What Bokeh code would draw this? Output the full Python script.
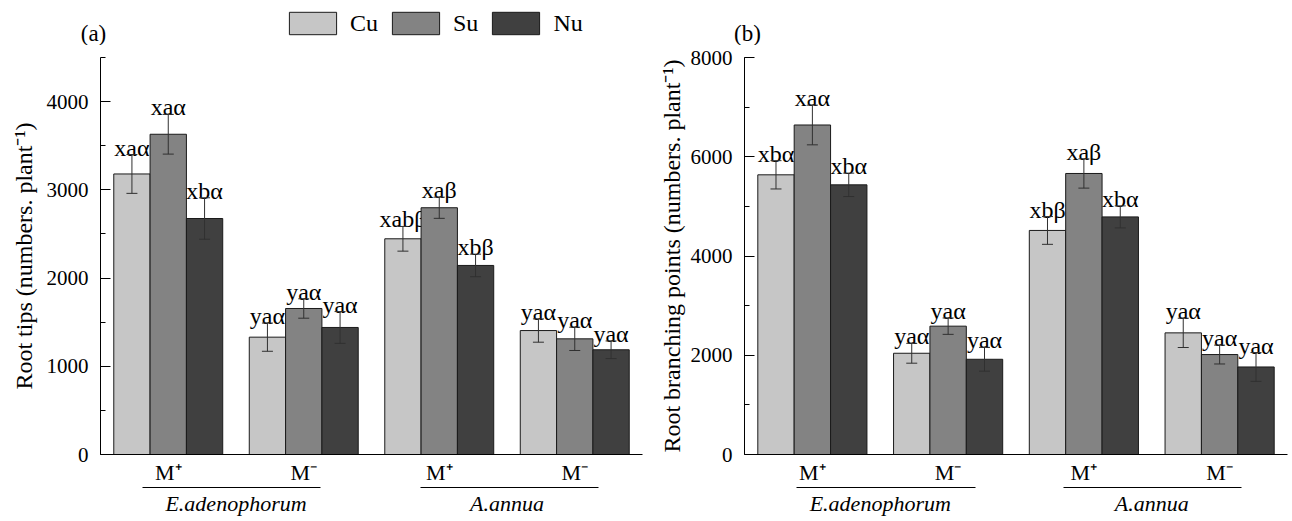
from bokeh.plotting import figure
from bokeh.models import (Range1d, LinearAxis, FixedTicker, SingleIntervalTicker,
                          ColumnDataSource, Whisker, TeeHead, Legend, LegendItem, Label)
from bokeh.layouts import row, column
from bokeh.embed import file_html
from bokeh.resources import INLINE
from bokeh.core.properties import value

# ---------------- data ----------------
groups = ["E.adenophorum M+", "E.adenophorum M-", "A.annua M+", "A.annua M-"]
group_ticks = ["M⁺", "M⁻", "M⁺", "M⁻"]
species = ["E.adenophorum", "A.annua"]
series = ["Cu", "Su", "Nu"]
colors = ["#c6c6c6", "#838383", "#404040"]

# (a) Root tips (numbers. plant-1)
tips_cu = [3180, 1330, 2445, 1405]
tips_cu_err = [220, 160, 140, 132]
tips_su = [3630, 1655, 2797, 1311]
tips_su_err = [225, 110, 120, 132]
tips_nu = [2675, 1440, 2143, 1187]
tips_nu_err = [235, 180, 128, 100]
tips_cu_lab = ["xaα", "yaα", "xabβ", "yaα"]
tips_su_lab = ["xaα", "yaα", "xaβ", "yaα"]
tips_nu_lab = ["xbα", "yaα", "xbβ", "yaα"]

# (b) Root branching points (numbers. plant-1)
branch_cu = [5636, 2040, 4515, 2451]
branch_cu_err = [285, 200, 280, 295]
branch_su = [6640, 2586, 5663, 2014]
branch_su_err = [400, 165, 295, 190]
branch_nu = [5434, 1919, 4788, 1764]
branch_nu_err = [236, 240, 222, 290]
branch_cu_lab = ["xbα", "yaα", "xbβ", "yaα"]
branch_su_lab = ["xaα", "yaα", "xaβ", "yaα"]
branch_nu_lab = ["xbα", "yaα", "xbα", "yaα"]

FONT = "Liberation Serif"
BAR_W = 0.268
OFFS = [-BAR_W, 0.0, BAR_W]
STRIP_H = 45
MAIN_H = 476


def make_panel(width, left_border, right_border, ymax, yint, ylabel, vals, errs, labs,
               ul_bounds, ul_dash, label_standoff):
    p = figure(width=width, height=MAIN_H, output_backend="svg", toolbar_location=None,
               x_range=Range1d(-0.5, 3.5), y_range=Range1d(0, ymax),
               min_border_left=left_border, min_border_right=right_border,
               min_border_top=12, min_border_bottom=67)
    p.xaxis.visible = False
    p.yaxis.visible = False
    p.grid.visible = False
    p.outline_line_color = None
    p.background_fill_color = "white"

    # y axis
    yax = LinearAxis(ticker=SingleIntervalTicker(interval=yint, num_minor_ticks=2),
                     axis_label=ylabel)
    yax.major_tick_in = 10
    yax.major_tick_out = 0
    yax.minor_tick_in = 5
    yax.minor_tick_out = 0
    yax.major_label_standoff = 12
    yax.major_label_text_font = FONT
    yax.major_label_text_font_size = "21px"
    yax.major_label_text_color = "black"
    yax.axis_label_text_font = FONT
    yax.axis_label_text_font_size = "24px"
    yax.axis_label_text_font_style = "normal"
    yax.axis_label_text_color = "black"
    yax.axis_label_standoff = label_standoff
    yax.axis_line_color = "black"
    yax.major_tick_line_color = "black"
    yax.minor_tick_line_color = "black"
    p.add_layout(yax, "left")

    # x axis with M+ / M- labels
    xax = LinearAxis(ticker=FixedTicker(ticks=[0, 1, 2, 3], minor_ticks=[]))
    xax.major_label_overrides = {i: t for i, t in enumerate(group_ticks)}
    xax.major_tick_in = 0
    xax.major_tick_out = 0
    xax.minor_tick_in = 0
    xax.minor_tick_out = 0
    xax.major_label_standoff = 5
    xax.major_label_text_font = FONT
    xax.major_label_text_font_size = "22px"
    xax.major_label_text_color = "black"
    xax.axis_line_color = "black"
    p.add_layout(xax, "below")

    # species axis (underlines drawn as a dashed axis line)
    sax = LinearAxis(ticker=FixedTicker(ticks=[0.5, 2.5], minor_ticks=[]),
                     bounds=ul_bounds)
    sax.major_label_overrides = {0.5: species[0], 2.5: species[1]}
    sax.major_tick_in = 0
    sax.major_tick_out = 0
    sax.minor_tick_in = 0
    sax.minor_tick_out = 0
    sax.major_label_standoff = 3
    sax.major_label_text_font = FONT
    sax.major_label_text_font_size = "22px"
    sax.major_label_text_font_style = "italic"
    sax.major_label_text_color = "black"
    sax.axis_line_color = "black"
    sax.axis_line_dash = ul_dash
    p.add_layout(sax, "below")

    for k in range(3):
        xs = [i + OFFS[k] for i in range(len(groups))]
        src = ColumnDataSource(dict(
            x=xs, top=vals[k],
            upper=[v + e for v, e in zip(vals[k], errs[k])],
            lower=[v - e for v, e in zip(vals[k], errs[k])],
            lab=labs[k]))
        p.vbar(x="x", top="top", width=BAR_W, bottom=0, source=src,
               fill_color=colors[k], line_color="#1a1a1a", line_width=1)
        w = Whisker(source=src, base="x", upper="upper", lower="lower",
                    dimension="height", line_color="#303030", line_width=1,
                    level="overlay",
                    upper_head=TeeHead(size=11, line_color="#303030", line_width=1),
                    lower_head=TeeHead(size=11, line_color="#303030", line_width=1))
        p.add_layout(w)
        p.text(x="x", y="upper", text="lab", source=src, text_align="center",
               text_baseline="alphabetic", y_offset=-7,
               text_font=value(FONT), text_font_size="24px", text_color="black")
    return p


pa = make_panel(650, 100, 8, 4500, 1000, "Root tips (numbers. plant⁻¹)",
                [tips_cu, tips_su, tips_nu], [tips_cu_err, tips_su_err, tips_nu_err],
                [tips_cu_lab, tips_su_lab, tips_nu_lab],
                (-0.19, 3.175), "178 100", 7)

pb = make_panel(642, 94, 5, 8000, 2000, "Root branching points (numbers. plant⁻¹)",
                [branch_cu, branch_su, branch_nu], [branch_cu_err, branch_su_err, branch_nu_err],
                [branch_cu_lab, branch_su_lab, branch_nu_lab],
                (-0.117, 3.161), "179 88", 3)

# top strip: legend and panel tags (legend swatches use off-screen proxy bars)
top = figure(width=1292, height=STRIP_H, output_backend="svg", toolbar_location=None,
             x_range=Range1d(0, 1292), y_range=Range1d(0, STRIP_H),
             min_border=0, min_border_left=0, min_border_right=0,
             min_border_top=0, min_border_bottom=0)
top.xaxis.visible = False
top.yaxis.visible = False
top.grid.visible = False
top.outline_line_color = None
proxies = [top.vbar(x=[5000], bottom=[5000], top=[5001], width=1, fill_color=c,
                    line_color="#1a1a1a", line_width=1) for c in colors]
lg = Legend(items=[LegendItem(label=s, renderers=[r]) for s, r in zip(series, proxies)],
            orientation="horizontal", location=(283, 8),
            glyph_width=59, glyph_height=28, label_standoff=8, spacing=8,
            padding=0, margin=0, border_line_color=None,
            background_fill_alpha=0,
            label_text_font=FONT, label_text_font_size="24px",
            label_text_color="black", label_height=28)
top.add_layout(lg)
for txt, sx, sy in [("(a)", 93, 12), ("(b)", 747, 12)]:
    top.add_layout(Label(x=sx, y=sy, x_units="screen", y_units="screen", text=txt,
                         text_align="center", text_baseline="middle",
                         text_font=FONT, text_font_size="23px", text_color="black"))

layout = column(top, row(pa, pb, spacing=0), spacing=0)
open("out.html", "w").write(file_html(layout, INLINE))
